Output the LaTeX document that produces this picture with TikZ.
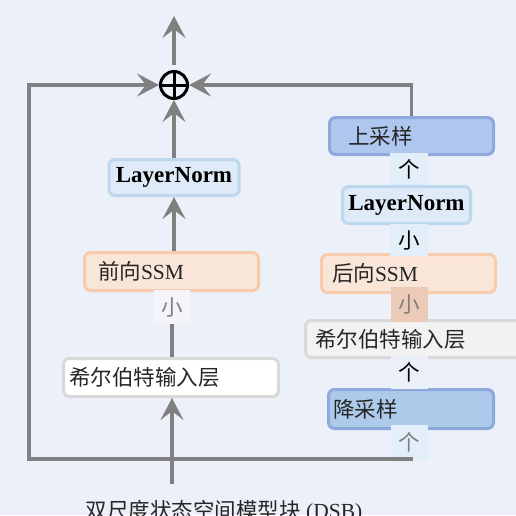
\documentclass[tikz,border=0pt]{standalone}
\usepackage{fontspec}
\setmainfont{Liberation Serif}
\newfontfamily\cjk{Noto Sans CJK SC}
\usetikzlibrary{arrows.meta,calc}
\definecolor{bg}{HTML}{EBF0F9}
\definecolor{arrgray}{HTML}{808080}
\definecolor{upfill}{HTML}{AFC7EE}
\definecolor{downfill}{HTML}{ADCAEA}
\definecolor{blueline}{HTML}{8EA9DB}
\definecolor{lnfill}{HTML}{DEEAF7}
\definecolor{lnline}{HTML}{BDD7EE}
\definecolor{ssmfill}{HTML}{FAE6D9}
\definecolor{ssmline}{HTML}{F8CBAD}
\definecolor{hilline}{HTML}{D9D9D9}
\definecolor{hilRfill}{HTML}{F2F2F2}
\definecolor{txtdark}{HTML}{262626}
\definecolor{lblgray}{HTML}{7F7F7F}
\definecolor{lblAfill}{HTML}{F3F3F8}
\definecolor{lblBfill}{HTML}{E2EEF8}
\definecolor{lblDfill}{HTML}{EBCBB8}
\definecolor{lblEfill}{HTML}{EAEFF8}
\definecolor{lblFfill}{HTML}{E2EEFA}
\tikzset{
  basebox/.style={draw, line width=3pt, rounded corners=6pt, inner ysep=0pt,
    font=\fontsize{21.5}{26}\selectfont, text=txtdark, align=left},
  lnbox/.style={basebox, fill=lnfill, draw=lnline, align=center, inner xsep=0pt,
    font=\bfseries\fontsize{23}{27}\selectfont, text=black},
  ssmbox/.style={basebox, fill=ssmfill, draw=ssmline},
  hilLbox/.style={basebox, fill=white, draw=hilline},
  hilRbox/.style={basebox, fill=hilRfill, draw=hilline},
  upbox/.style={basebox, fill=upfill, draw=blueline},
  downbox/.style={basebox, fill=downfill, draw=blueline},
  lbl/.style={inner sep=0pt, font=\cjk\fontsize{21.5}{26}\selectfont, text=black},
  arr/.style={draw=arrgray, line width=3.8pt, -{Stealth[length=22pt,width=23pt,inset=9pt]}},
  conn/.style={draw=arrgray, line width=3.8pt},
  sumnode/.style={circle, draw=black, line width=3pt, minimum size=27pt, inner sep=0pt,
    path picture={\draw[line width=3pt] (path picture bounding box.north) -- (path picture bounding box.south)
      (path picture bounding box.west) -- (path picture bounding box.east);}}
}
\begin{document}
\begin{tikzpicture}[x=1pt,y=-1pt]
\clip (0,0) rectangle (516,515);
\fill[bg] (0,0) rectangle (516,515);

% left column
\node[sumnode] (plus) at (174,85) {};
\node[lnbox, minimum width=130pt, minimum height=36pt] (lnL) at (174,177.5) {LayerNorm};
\node[ssmbox, minimum height=38pt, text width=147pt, inner xsep=13.5pt] (fwd) at (171.5,271.5) {{\cjk 前向}SSM};
\node[hilLbox, minimum height=38pt, text width=204pt, inner xsep=5.5pt] (hilL) at (171,377.5) {\cjk 希尔伯特输入层};
\node[lbl, fill=lblAfill, text=lblgray, minimum width=36pt, minimum height=34pt] (lblA) at (172,307) {小};

% right column
\node[upbox, minimum height=37pt, text width=127pt, inner xsep=18.5pt] (up) at (411.5,136) {\cjk 上采样};
\node[lnbox, minimum width=128pt, minimum height=37pt] (lnR) at (406.5,205) {LayerNorm};
\node[ssmbox, minimum height=38pt, text width=153pt, inner xsep=10.5pt] (bwd) at (408.5,273.5) {{\cjk 后向}SSM};
\node[hilRbox, minimum height=37pt, text width=215.5pt, inner xsep=9.5pt] (hilR) at (422.75,339) {\cjk 希尔伯特输入层};
\node[downbox, minimum height=39pt, text width=156pt, inner xsep=4.5pt] (down) at (411,409) {\cjk 降采样};

\node[lbl, fill=lblBfill, minimum width=38pt, minimum height=32pt] (lblB) at (409,169) {个};
\node[lbl, fill=lblBfill, minimum width=38pt, minimum height=32pt] (lblC) at (409,240) {小};
\node[lbl, fill=lblDfill, text=lblgray, minimum width=37pt, minimum height=35pt] (lblD) at (409.5,304.5) {小};
\node[lbl, fill=lblEfill, minimum width=37pt, minimum height=33pt] (lblE) at (409.5,372.5) {个};
\node[lbl, fill=lblFfill, text=lblgray, minimum width=37pt, minimum height=35pt] (lblF) at (409.5,442.5) {个};

% title
\node[anchor=base, inner sep=0pt, font=\fontsize{21.5}{26}\selectfont, text=txtdark] (title) at (224,518) {{\cjk 双尺度状态空间模型块} (DSB)};

% coordinates
\coordinate (out) at (174,16);
\coordinate (inp) at (172,484);
\coordinate (loopA) at (413,459);
\coordinate (loopB) at (29,459);

% connectors
\draw[arr, shorten <=5pt] (plus.north) -- (out);
\draw[arr] (lnL.north) -- (plus.south);
\draw[arr] (lnL.south |- fwd.north) -- (lnL.south);
\draw[conn] (lblA.south |- hilL.north) -- (lblA.south);
\draw[arr] (inp) -- (inp |- hilL.south);
\draw[arr] (loopA) -- (loopB) |- (plus.west);
\draw[arr] (up.north) |- (plus.east);
\end{tikzpicture}
\end{document}
